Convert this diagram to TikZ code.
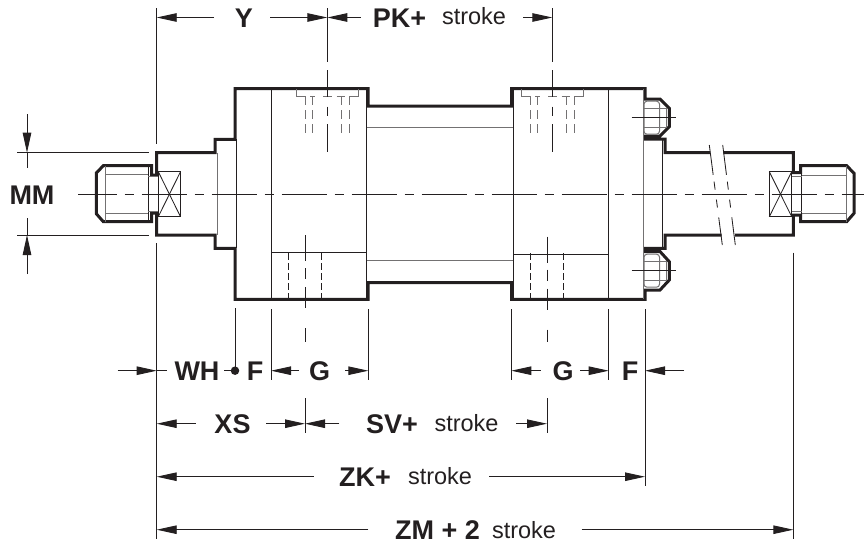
\documentclass[tikz,border=0pt]{standalone}
\usepackage{fontspec}
\setmainfont{Liberation Sans}
\usetikzlibrary{arrows.meta}
\usetikzlibrary{positioning}
\definecolor{dwgblack}{RGB}{35,31,32}
\definecolor{dwggray}{RGB}{115,113,114}
\tikzset{
  outline/.style={draw=dwgblack, line width=3pt, miter limit=10},
  thinblack/.style={draw=dwgblack, line width=0.85pt},
  thingray/.style={draw=dwggray, line width=1pt},
  hidden/.style={draw=dwgblack, line width=0.85pt, dash pattern=on 7pt off 3pt},
  hiddengray/.style={draw=dwggray, line width=1pt, dash pattern=on 8.3pt off 5pt on 9.3pt off 5pt on 9pt},
  centreline/.style={draw=dwgblack, line width=0.85pt},
  dimline/.style={draw=dwgblack, line width=0.9pt},
  dimarrow/.style={dimline, -{Triangle[length=20pt,width=8.5pt]}},
  biglabel/.style={text=dwgblack, inner sep=0pt, anchor=base, font=\fontsize{27}{27}\selectfont\bfseries},
  smalllabel/.style={text=dwgblack, inner sep=0pt, anchor=base, font=\fontsize{23.5}{24}\selectfont}
}
\begin{document}
\begin{tikzpicture}[x=1pt, y=-1pt]
  \useasboundingbox (0,0) rectangle (864,544);
  % body and rod, left part up to the break
  \draw[outline] (710,152.7) -- (665,152.7) -- (665,139) -- (645,139) -- (645,136) -- (660,136)
    -- (669.3,126.7) -- (669.3,108.3) -- (660,99) -- (645,99) -- (645,88.5) -- (511.7,88.5)
    -- (511.7,106) -- (368.2,106) -- (368.2,88.5) -- (235,88.5) -- (235,139.3) -- (215,139.3)
    -- (215,152.7) -- (156.7,152.7) -- (156.7,175) -- (151.7,175) -- (151.7,165.7)
    -- (103.3,165.7) -- (96.3,173) -- (96.3,213.7) -- (103.3,221.7) -- (151.7,221.7)
    -- (151.7,213) -- (156.7,213) -- (156.7,235) -- (215,235) -- (215,248.3) -- (235,248.3)
    -- (235,299.3) -- (368.2,299.3) -- (368.2,282.5) -- (511.7,282.5) -- (511.7,299.3)
    -- (645,299.3) -- (645,290) -- (660,290) -- (669.3,280) -- (669.3,261.7) -- (660,251.5)
    -- (645,251.5) -- (645,248.3) -- (665,248.3) -- (665,235) -- (721.7,235);
  % rod, right part
  \draw[outline] (723.3,152.7) -- (793.3,152.7) -- (793.3,172.7) -- (800.7,172.7) -- (800.7,165.7)
    -- (846.7,165.7) -- (854,173.3) -- (854,213.3) -- (846.7,221.7) -- (800.7,221.7)
    -- (800.7,215) -- (793.3,215) -- (793.3,235) -- (735,235);
  % thin edges
  \foreach \x/\a/\b in {271.3/88.5/299.3, 366.7/88.5/299.3, 513.3/88.5/299.3, 608.7/88.5/299.3,
      236.3/139.3/248.3, 662.7/139/248.3, 148.3/165.7/221.7, 801.7/165.7/221.7}{
    \draw[thinblack] (\x,\a) -- (\x,\b);
  }
  \foreach \x/\a/\b in {217/152.7/235, 643.5/88.5/299.3, 105/165.7/221.7, 846/165.7/221.7}{
    \draw[thingray] (\x,\a) -- (\x,\b);
  }
  \draw[thingray] (366.7,127.7) -- (513.3,127.7);
  \draw[thingray] (366.7,260) -- (513.3,260);
  \draw[thinblack] (271.3,252.3) -- (366.7,252.3);
  \draw[thinblack] (513.3,254) -- (608.7,254);
  \foreach \x in {288.7, 321.3, 530.7, 563.3}{
    \draw[hidden] (\x,253) -- (\x,299);
  }
  % threads, necks and flats
  \foreach \a/\b/\p/\q in {105/148.3/174/213.3, 801.7/846/175/213.3}{
    \draw[thingray] (\a,\p) -- (\b,\p);
    \draw[thingray] (\a,\q) -- (\b,\q);
  }
  \foreach \a/\b in {148.3/158.3, 791.7/801.7}{
    \draw[thingray] (\a,176.5) -- (\b,176.5);
    \draw[thingray] (\a,211) -- (\b,211);
  }
  \draw[thinblack] (158.3,215) -- (158.3,176);
  \draw[thinblack] (791.7,215) -- (791.7,176);
  \foreach \a/\b in {158.3/180.5, 769.3/791.7}{
    \draw[thinblack] (\a,171.7) rectangle (\b,216.7);
    \draw[thinblack] (\a,171.7) -- (\b,216.7);
    \draw[thinblack] (\a,216.7) -- (\b,171.7);
  }
  % nuts
  \foreach \c in {117.7, 270.7}{
    \begin{scope}[shift={(0,\c)}]
      \draw[thingray, rounded corners=3pt] (644,-16.5) rectangle (659.5,16.5);
      \draw[thingray] (644,-9.5) -- (666.5,-9.5) -- (666.5,9.5) -- (644,9.5);
      \draw[thinblack] (631.7,0) -- (676,0);
    \end{scope}
  }
  % ports
  \foreach \d in {0, 225}{
    \begin{scope}[shift={(\d,0)}]
      \draw[thingray] (296.7,89) -- (296.7,96.7) -- (305.7,96.7);
      \draw[thingray] (358.3,89) -- (358.3,96.7) -- (349,96.7);
      \foreach \a/\b in {310/315, 323.3/331.7, 336.7/345}{
        \draw[thingray] (\a,96.7) -- (\b,96.7);
      }
      \foreach \x in {305.7, 312.7, 341.7, 349}{
        \draw[hiddengray] (\x,96.7) -- (\x,133.3);
      }
      \draw[centreline, dash pattern=on 54pt off 8pt on 27pt off 9.7pt on 9pt off 8.6pt on 27.7pt]
        (327.3,8) -- (327.3,152);
    \end{scope}
  }
  \foreach \x/\t in {305/235, 547/236.5}{
    \draw[centreline, dash pattern=on 26pt off 7pt on 11pt off 8pt on 21pt off 20pt on 14pt]
      (\x,\t) -- (\x,342);
  }
  % axis and break marks
  \draw[centreline, dash pattern=on 45pt off 8pt on 9pt off 8pt, dash phase=6.3pt] (78,194) -- (864,194);
  \foreach \a/\b in {709.3/722.3, 722.7/735.3}{
    \draw[thinblack, dash pattern=on 30pt off 7pt on 8pt off 10pt on 8pt off 10pt on 30pt]
      (\a,145) -- (\b,245);
  }
  % labels
  \node[biglabel] (Y) at (244,27) {Y};
  \node[biglabel] (PK) at (399.5,27) {PK+};
  \node[smalllabel] (strokePK) at (474,24) {stroke};
  \node[biglabel] (MM) at (32,204) {MM};
  \node[biglabel] (WH) at (197,380) {WH};
  \node[biglabel] (Fl) at (255,380) {F};
  \node[biglabel] (Gl) at (319.5,380) {G};
  \node[biglabel] (Gr) at (563,380) {G};
  \node[biglabel] (Fr) at (630,380) {F};
  \node[biglabel] (XS) at (232.5,433.3) {XS};
  \node[biglabel] (SV) at (392,433.3) {SV+};
  \node[smalllabel] (strokeSV) at (466.5,431.7) {stroke};
  \node[biglabel] (ZK) at (365,486.7) {ZK+};
  \node[smalllabel] (strokeZK) at (440,484) {stroke};
  \node[biglabel] (ZM) at (437.5,539.3) {ZM + 2};
  \node[smalllabel] (strokeZM) at (524,538) {stroke};
  \node[circle, fill=dwgblack, inner sep=0pt, minimum size=8.5pt] (dotWH) at (235,370.7) {};
  % end points of dimension lines
  \foreach \n/\x/\y in {yA/214/17.5, yB/270/17.5, pkA/360.7/17.5, pkB/523/17.5,
      rodTop/156.7/17.5, portA/327.3/17.5, portB/552.3/17.5,
      mmA/27/114.3, mmB/27/152.7, mmC/27/168.3, mmD/27/274, mmE/27/235, mmF/27/218,
      wxA/117.7/370.7, wxB/156.7/370.7, wxC/166.7/370.7, wxD/224/370.7, wxE/238/370.7,
      gA/299/370.7, gB/271/370.7, gC/345/370.7, gD/368.3/370.7,
      gE/540.7/370.7, gF/511.3/370.7, gG/580/370.7, gH/608.7/370.7, frA/684/370.7, frB/645/370.7,
      xsA/195.7/423.7, xsB/156.7/423.7, xsC/266/423.7, xsD/305/423.7, svA/339.3/423.7,
      svB/516/423.7, svC/547/423.7,
      zkA/313.7/476.7, zkB/156.7/476.7, zkC/489/476.7, zkD/645/476.7,
      zmA/368.3/529.7, zmB/156.7/529.7, zmC/581.7/529.7, zmD/793.3/529.7}{
    \coordinate (\n) at (\x,\y);
  }
  \foreach \a/\b in {yA/rodTop, yB/portA, pkA/portA, pkB/portB, mmA/mmB, mmD/mmE, wxA/wxB,
      gA/gB, gC/gD, gE/gF, gG/gH, frA/frB, xsA/xsB, xsC/xsD, svA/xsD, svB/svC,
      zkA/zkB, zkC/zkD, zmA/zmB, zmC/zmD}{
    \draw[dimarrow] (\a) -- (\b);
  }
  \foreach \a/\b in {mmB/mmC, mmE/mmF, wxB/wxC, wxD/wxE}{
    \draw[dimline] (\a) -- (\b);
  }
  % extension lines
  \foreach \p/\q/\r/\s in {17.3/152.7/149/152.7, 17.3/235/149/235}{
    \draw[thinblack] (\p,\q) -- (\r,\s);
  }
  \foreach \x/\a/\b in {156.7/8/144, 156.7/243/539.3, 793.3/252.7/539.3, 235/308/370.7,
      271/309/380, 368.3/309/380, 511.3/309/380, 608.7/309/380, 645/309/486}{
    \draw[thinblack] (\x,\a) -- (\x,\b);
  }
  \foreach \x in {305, 547}{
    \draw[thinblack] (\x,398) -- (\x,433);
  }
\end{tikzpicture}
\end{document}
